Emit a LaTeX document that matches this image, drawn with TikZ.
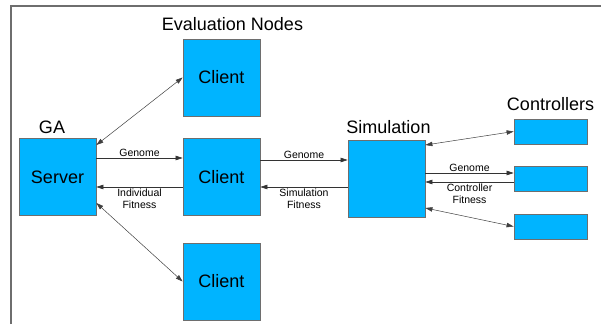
\documentclass[tikz,border=0pt]{standalone}
\usepackage{fontspec}
\setmainfont{Liberation Sans}
\usetikzlibrary{arrows.meta}
\definecolor{boxblue}{RGB}{0,180,255}
\definecolor{framegray}{RGB}{110,110,110}
\begin{document}
\begin{tikzpicture}[
  x=1pt, y=-1pt,
  box/.style={rectangle, fill=boxblue, draw=framegray, line width=0.8pt, inner sep=0pt, font=\fontsize{18}{20}\selectfont},
  bigbox/.style={box, minimum width=77pt, minimum height=77pt},
  ctrlbox/.style={box, minimum width=73pt, minimum height=25pt},
  title/.style={anchor=base, inner sep=0pt, font=\fontsize{18}{20}\selectfont},
  flow/.style={line width=0.6pt, draw=black!80, -{Triangle[length=7pt,width=4.5pt]}},
  link/.style={line width=0.5pt, draw=black!75, {Triangle[length=7pt,width=4.5pt]}-{Triangle[length=7pt,width=4.5pt]}},
  lbl/.style={inner sep=1.5pt, align=center, font=\fontsize{10.5}{12}\selectfont}
]

  \useasboundingbox (0,0) rectangle (601,324);

  % --- Rahmen ---
  \draw[framegray, line width=2pt] (11,324) -- (11,6) -- (601,6);

  % --- GA ---
  \node[bigbox] (server) at (57.5,177) {Server};
  \node[title] (ga) at (52,133) {GA};

  % --- Evaluation Nodes ---
  \node[bigbox] (client1) at (221.5,77.5) {Client};
  \node[bigbox] (client2) at (221.5,177) {Client};
  \node[bigbox] (client3) at (221.5,281.5) {Client};
  \node[title] (evalnodes) at (232.5,30) {Evaluation Nodes};

  % --- Simulation ---
  \node[bigbox] (sim) at (386.5,178.5) {};
  \node[title] (simtitle) at (388.5,133) {Simulation};

  % --- Controllers ---
  \node[ctrlbox] (ctrl1) at (550.5,131.5) {};
  \node[ctrlbox] (ctrl2) at (550.5,178.5) {};
  \node[ctrlbox] (ctrl3) at (550.5,226.5) {};
  \node[title] (ctrltitle) at (550.5,110) {Controllers};

  % --- Server <-> Clients ---
  \draw[link] ([yshift=32pt]server.east) -- (client1.west);
  \draw[link] ([yshift=-26pt]server.east) -- (client3.west);
  \draw[flow] ([yshift=19pt]server.east) -- node[lbl, above] {Genome} ([yshift=19pt]client2.west);
  \draw[flow] ([yshift=-10pt]client2.west) -- node[lbl, below] {Individual\\Fitness} ([yshift=-10pt]server.east);

  % --- Client <-> Simulation ---
  \draw[flow] ([yshift=17pt]client2.east) -- node[lbl, above] {Genome} ([yshift=17pt]client2.east -| sim.west);
  \draw[flow] ([yshift=-10pt]client2.east -| sim.west) -- node[lbl, below] {Simulation\\Fitness} ([yshift=-10pt]client2.east);

  % --- Simulation <-> Controllers ---
  \draw[link] ([yshift=33.5pt]sim.east) -- (ctrl1.west);
  \draw[flow] ([yshift=5.5pt]sim.east) -- node[lbl, above] {Genome} ([yshift=5.5pt]ctrl2.west);
  \draw[flow] ([yshift=-3.5pt]ctrl2.west) -- node[lbl, below] {Controller\\Fitness} ([yshift=-3.5pt]sim.east);
  \draw[link] ([yshift=-29.5pt]sim.east) -- (ctrl3.west);

\end{tikzpicture}
\end{document}
